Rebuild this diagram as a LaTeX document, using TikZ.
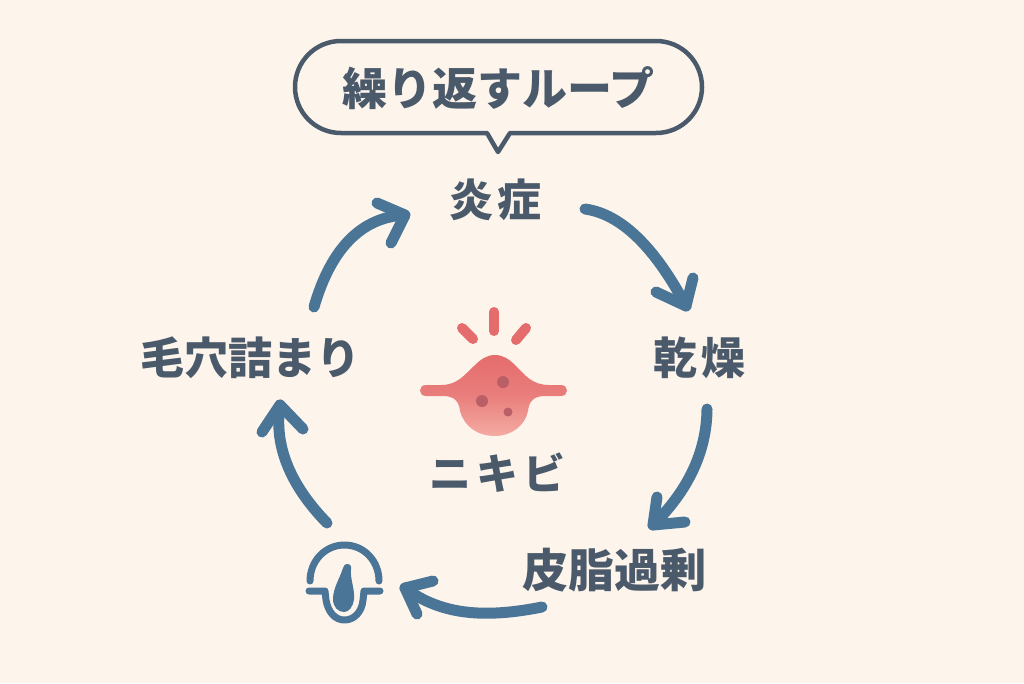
\documentclass[tikz,border=0pt]{standalone}
\usepackage{fontspec}
\newfontfamily\cjk{Noto Sans CJK JP}
\definecolor{bgc}{HTML}{FDF5EC}
\definecolor{ink}{HTML}{4B5A6B}
\definecolor{flowc}{HTML}{4A7596}
\definecolor{redc}{HTML}{E56C6C}
\definecolor{redmid}{HTML}{E97E7C}
\definecolor{redlow}{HTML}{F4ACA3}
\definecolor{dotc}{HTML}{BA5F66}
\tikzset{
  lab/.style={text=ink,font=\cjk\bfseries\fontsize{44}{50}\selectfont,inner sep=0pt},
  flow/.style={draw=flowc,line width=11pt,line cap=round,line join=round},
  icon/.style={draw=flowc,line width=7pt,line cap=round,line join=round},
  ray/.style={draw=redc,line width=10pt,line cap=round},
  spot/.style={fill=dotc,draw=none,circle}
}
\newcommand{\gap}{\hspace{4pt}}
\begin{document}
\begin{tikzpicture}[x=1pt,y=-1pt]
\fill[bgc] (0,0) rectangle (1024,683);
\useasboundingbox (0,0) rectangle (1024,683);
% speech bubble
\draw[ink,line width=4.5pt,line join=round] (500,41) -- (341,41)
  .. controls (315,41) and (295,62) .. (295,87)
  .. controls (295,112) and (315,133) .. (341,133)
  -- (487,133) -- (498,152) -- (510,133) -- (656,133)
  .. controls (682,133) and (702,112) .. (702,87)
  .. controls (702,62) and (682,41) .. (656,41) -- cycle;
\node[lab,font=\cjk\bfseries\fontsize{45}{50}\selectfont] (title) at (498.5,88) {繰り返すループ};
% labels
\node[lab] (enshou) at (495.5,200) {炎\gap 症};
\node[lab] (kansou) at (699.5,358) {乾\gap 燥};
\node[lab] (keana) at (250.5,358) {毛穴詰まり};
\node[lab,font=\cjk\bfseries\fontsize{46}{50}\selectfont] (hishi) at (614.5,570) {皮脂過剰};
\node[lab,font=\cjk\bfseries\fontsize{42}{50}\selectfont] (nikibi) at (497.5,473) {ニ\hspace{5pt}キ\hspace{5pt}ビ};
% arrow end points
\coordinate (a1s) at (585,209); \coordinate (a1e) at (686,306);
\coordinate (a1l) at (656,292); \coordinate (a1r) at (693,278);
\coordinate (a2s) at (707,409); \coordinate (a2e) at (653,525);
\coordinate (a2l) at (657,497); \coordinate (a2r) at (685,522);
\coordinate (a3s) at (542,607); \coordinate (a3e) at (405,588);
\coordinate (a3l) at (433,581); \coordinate (a3r) at (417,614);
\coordinate (a4s) at (327,523); \coordinate (a4e) at (280,405);
\coordinate (a4l) at (262,432); \coordinate (a4r) at (303,429);
\coordinate (a5s) at (314,307); \coordinate (a5e) at (405,215);
\coordinate (a5l) at (377,203); \coordinate (a5r) at (391,243);
% arrows
\draw[flow] (a1s) .. controls (620.7,214) and (654.3,246.3) .. (a1e);
\draw[flow] (a1l) -- (a1e) -- (a1r);
\draw[flow] (a2s) .. controls (706.7,451.7) and (688,490.7) .. (a2e);
\draw[flow] (a2l) -- (a2e) -- (a2r);
\draw[flow] (a3s) .. controls (487,618) and (442,616) .. (a3e);
\draw[flow] (a3l) -- (a3e) -- (a3r);
\draw[flow] (a4s) .. controls (289,484) and (274,444.5) .. (a4e);
\draw[flow] (a4l) -- (a4e) -- (a4r);
\draw[flow] (a5s) .. controls (331,248) and (362,217) .. (a5e);
\draw[flow] (a5l) -- (a5e) -- (a5r);
% pimple rays
\draw[ray] (494,312) -- (494,331);
\draw[ray] (462,328) -- (473,339);
\draw[ray] (526,328) -- (516,340);
% pimple body
\shade[top color=redc,bottom color=redlow,middle color=redmid,shading angle=0]
  (426,385) -- (441,385)
  .. controls (458,385) and (465,374) .. (474,366)
  .. controls (481,359) and (487,355) .. (495,355)
  .. controls (503,355) and (509,359) .. (516,366)
  .. controls (525,375) and (532,385) .. (549,385)
  -- (561,385)
  .. controls (569,385) and (569,396) .. (561,396)
  -- (545,396)
  .. controls (533,396) and (529,402) .. (528,411)
  .. controls (525,426) and (511,436) .. (495,436)
  .. controls (477,436) and (464,426) .. (460,411)
  .. controls (459,402) and (455,396) .. (443,396)
  -- (426,396)
  .. controls (418,396) and (418,385) .. (426,385) -- cycle;
\node[spot,minimum size=12pt,inner sep=0pt] (d1) at (503,382) {};
\node[spot,minimum size=12pt,inner sep=0pt] (d2) at (482,401) {};
\node[spot,minimum size=9pt,inner sep=0pt] (d3) at (508,412) {};
% follicle icon
\draw[icon] (310,581) .. controls (310,561) and (325,545) .. (344.5,545)
  .. controls (364,545) and (379,561) .. (379,581);
\draw[icon] (309,591) -- (325,591) -- (326,600)
  .. controls (328,612) and (335,620) .. (344.5,620)
  .. controls (354,620) and (362,612) .. (363,600) -- (364,591) -- (380,591);
\fill[flowc] (347,564) .. controls (350,564) and (352,566) .. (351,570)
  .. controls (350,578) and (355,590) .. (354,599)
  .. controls (353,607) and (349,612) .. (344,612)
  .. controls (338,612) and (333,607) .. (333,599)
  .. controls (333,588) and (340,578) .. (343,568)
  .. controls (344,565) and (345,564) .. (347,564) -- cycle;
\end{tikzpicture}
\end{document}
